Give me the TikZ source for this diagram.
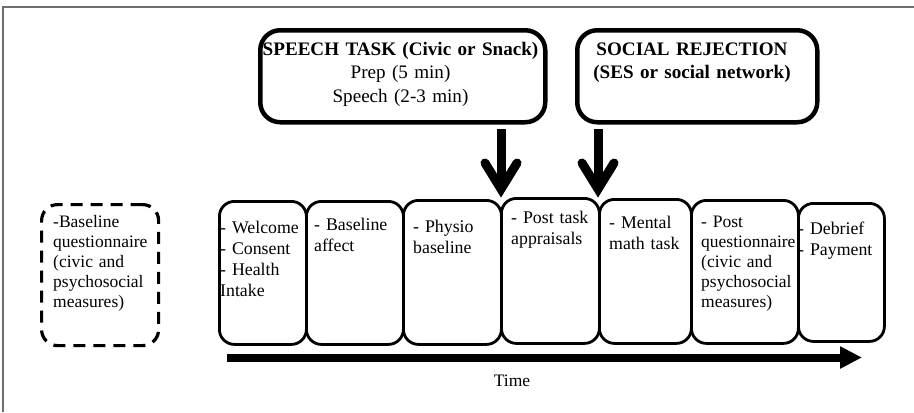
\documentclass[tikz,border=0pt]{standalone}
\usepackage{fontspec}
\setmainfont{Liberation Serif}
\usetikzlibrary{arrows.meta,calc}
\definecolor{framegray}{HTML}{6E6E6E}
\begin{document}
\begin{tikzpicture}[x=1bp,y=-1bp,
  stagebox/.style={draw, line width=2.8bp, rounded corners=15bp, inner sep=0pt, anchor=north west},
  dashbox/.style={draw, line width=3.2bp, rounded corners=16bp, inner sep=0pt, anchor=north west, dash pattern=on 12bp off 8bp},
  topbox/.style={draw, line width=4.5bp, rounded corners=20bp, inner sep=0pt, anchor=north west},
  stagetext/.style={inner sep=0pt, anchor=base west, text width=120bp, align=left, font=\fontsize{17.8bp}{21bp}\selectfont},
  narrowtext/.style={stagetext, font=\fontsize{17.5bp}{20bp}\selectfont},
  toptext/.style={inner sep=0pt, anchor=base, align=center, text width=330bp, font=\fontsize{19.1bp}{23.5bp}\selectfont},
  timearrow/.style={line width=8bp, -{Triangle[length=22bp,width=21bp]}},
  downshaft/.style={line width=9bp},
  downhead/.style={line width=9bp, line cap=round, line join=miter},
  frameline/.style={line width=2bp, framegray}
]
\useasboundingbox (0,0) rectangle (914,412);
% frame
\draw[frameline] (3,412) -- (3,6.5) -- (914,6.5);

% top boxes
\node[topbox, minimum width=285bp, minimum height=92bp] (speech) at (258,28) {};
\node[toptext] (speechtxt) at (400.5,55) {\textbf{SPEECH TASK (Civic or Snack)}\\Prep (5 min)\\Speech (2-3 min)};
\node[topbox, minimum width=240bp, minimum height=92bp] (social) at (575,28) {};
\node[toptext] (socialtxt) at (692,55) {\textbf{SOCIAL REJECTION}\\\textbf{(SES or social network)}};

% dashed baseline box
\node[dashbox, minimum width=117bp, minimum height=141bp] (base) at (40,203) {};
\node[narrowtext] (basetxt) at (53,227) {-Baseline\\questionnaire\\(civic and\\psychosocial\\measures)};

% stage boxes
\node[stagebox, minimum width=87bp, minimum height=143bp] (b1) at (218,200) {};
\node[stagebox, minimum width=97bp, minimum height=143bp] (b2) at (305,200) {};
\node[stagebox, minimum width=98bp, minimum height=144bp] (b3) at (402,199) {};
\node[stagebox, minimum width=98bp, minimum height=145bp] (b4) at (500,197) {};
\node[stagebox, minimum width=92bp, minimum height=144bp] (b5) at (598,198) {};
\node[stagebox, minimum width=107bp, minimum height=143bp] (b6) at (690,199) {};
\node[stagebox, minimum width=86bp, minimum height=138bp] (b7) at (797,202) {};

\node[stagetext] (t1) at (220,233) {- Welcome\\- Consent\\- Health\\Intake};
\node[stagetext] (t2) at (314,230) {- Baseline\\affect};
\node[stagetext] (t3) at (413,232) {- Physio\\baseline};
\node[stagetext] (t4) at (511,223) {- Post task\\appraisals};
\node[stagetext] (t5) at (609,228) {- Mental\\math task};
\node[narrowtext] (t6) at (701,227) {- Post\\questionnaire\\(civic and\\psychosocial\\measures)};
\node[stagetext] (t7) at (798,234) {- Debrief\\- Payment};

% down arrows
\coordinate (d1s) at (501,129);
\coordinate (d1v) at (501,189);
\coordinate (d2s) at (598,129);
\coordinate (d2v) at (598,189);
\draw[downshaft] (d1s) -- (d1v);
\draw[downhead] ($(d1v)+(-16,-26)$) -- (d1v) -- ($(d1v)+(16,-26)$);
\draw[downshaft] (d2s) -- (d2v);
\draw[downhead] ($(d2v)+(-16,-26)$) -- (d2v) -- ($(d2v)+(16,-26)$);

% time arrow
\coordinate (tstart) at (227,357.5);
\coordinate (tend) at (862,357.5);
\draw[timearrow] (tstart) -- (tend);
\node[inner sep=0pt, anchor=base, font=\fontsize{17.5bp}{21bp}\selectfont] (time) at (512,386) {Time};
\end{tikzpicture}
\end{document}
